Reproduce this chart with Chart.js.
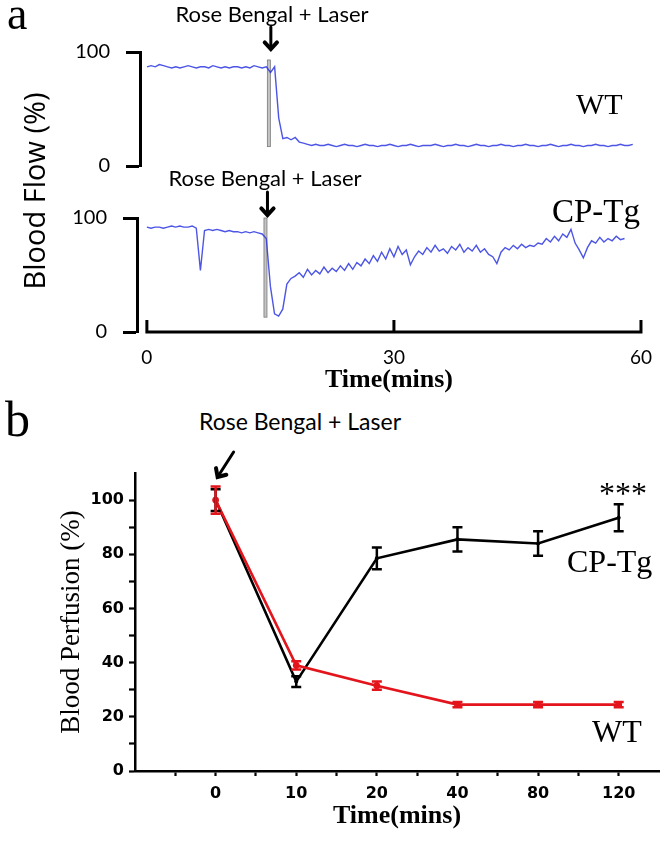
<!DOCTYPE html>
<html>
<head>
<meta charset="utf-8">
<script src="https://cdn.jsdelivr.net/npm/chart.js@4.4.0/dist/chart.umd.min.js"></script>
<style>
  html, body { margin: 0; padding: 0; background: #fff; }
  #page { position: relative; width: 666px; height: 842px; overflow: hidden; background: #fff; }
  canvas { position: absolute; left: 0; }
  .lbl { position: absolute; white-space: nowrap; color: #000; line-height: 1; }
  .serif { font-family: "Liberation Serif", "Times New Roman", serif; }
  .sans { font-family: Lato, "Open Sans", sans-serif; }
  .hdr { text-align: center; width: 300px; }
</style>
</head>
<body>
<div id="page">
  <canvas id="flowWT" width="666" height="194" style="top:0"></canvas>
  <canvas id="flowCP" width="666" height="220" style="top:180px"></canvas>
  <canvas id="perfusion" width="666" height="402" style="top:440px"></canvas>

  <div class="lbl serif" style="left:7px;top:-9px;font-size:46px">a</div>
  <div class="lbl sans hdr" style="left:122px;top:3px;font-size:22px">Rose Bengal + Laser</div>
  <div class="lbl serif" style="left:576px;top:89px;font-size:30px">WT</div>
  <div class="lbl sans hdr" style="left:115px;top:167px;font-size:22px">Rose Bengal + Laser</div>
  <div class="lbl serif" style="left:552px;top:195px;font-size:33px">CP-Tg</div>
  <div class="lbl" style="left:33px;top:191px;font-size:29px;font-family:'Open Sans',sans-serif;transform:translate(-50%,-50%) rotate(-90deg)">Blood Flow (%)</div>

  <div class="lbl serif" style="left:5px;top:394px;font-size:50px">b</div>
  <div class="lbl sans hdr" style="left:150px;top:410px;font-size:23px">Rose Bengal + Laser</div>
  <div class="lbl serif" style="left:599px;top:477px;font-size:32px">***</div>
  <div class="lbl serif" style="left:567px;top:545px;font-size:32px">CP-Tg</div>
  <div class="lbl serif" style="left:592px;top:715px;font-size:32px">WT</div>
</div>

<script>
// ---- panel a: laser Doppler traces (sampled every 0.5 min) ----
const traceStep = 0.5;
const flowTicks = [0, 30, 60];

const wtFlow = [
  87, 88, 87, 89, 88, 87, 86, 87, 86, 87, 88, 87, 86, 87, 87, 86, 88, 87, 86, 87,
  86, 87, 87, 86, 87, 86, 88, 87, 86, 87, 82, 87, 42, 24, 25, 23, 25, 21, 20, 19,
  18, 19, 18, 18, 19, 18, 17, 18, 19, 18, 18, 17, 18, 19, 18, 18, 17, 18, 18, 19,
  18, 17, 18, 18, 19, 18, 17, 18, 18, 18, 19, 18, 17, 18, 18, 19, 18, 18, 17, 18,
  19, 18, 18, 17, 18, 18, 19, 18, 18, 17, 18, 18, 19, 18, 18, 17, 18, 18, 19, 18,
  17, 18, 18, 19, 18, 18, 17, 18, 18, 19, 18, 18, 17, 18, 18, 19, 18, 18, 19
];
const cpFlow = [
  92, 91, 92, 92, 91, 92, 93, 92, 93, 92, 92, 93, 91, 54, 89, 90, 89, 90, 89, 88,
  89, 88, 88, 87, 88, 87, 88, 87, 86, 82, 40, 16, 14, 20, 42, 47, 49,
  52, 48, 55, 50, 54, 51, 57, 52, 56, 53, 58, 54, 60, 55, 61,
  58, 64, 60, 67, 62, 70, 64, 73, 66, 75, 68, 72,
  59,
  66, 71, 68, 74, 70, 76, 71, 73, 69, 75, 72, 77, 70, 74, 71, 76, 70, 73, 68, 66,
  60,
  70, 74, 72, 76, 73, 77, 74, 76, 75, 78, 77,
  82, 79, 84, 80, 86, 83, 90,
  78, 72, 65, 74,
  80, 78, 83, 79, 82, 80, 84, 81, 82
];
const wtInjection = 14.8;
const cpInjection = 14.4;

// ---- panel b: blood perfusion ----
const timeLabels = ['0', '10', '20', '40', '80', '120'];
const wtPerfusion = [100, 39, 31.5, 24.5, 24.5, 24.5];
const wtError = [5, 1.5, 1.5, 1, 1, 1];
const cpPerfusion = [100, 33, 78.5, 85.5, 84, 93.5];
const cpError = [4, 2, 4, 4.5, 4.5, 5];

const toPoints = arr => arr.map((v, i) => ({ x: i * traceStep, y: v }));

function drawArrow(ctx, x1, y1, x2, y2) {
  const ang = Math.atan2(y2 - y1, x2 - x1);
  ctx.save();
  ctx.strokeStyle = '#000';
  ctx.lineCap = 'round';
  ctx.lineJoin = 'miter';
  ctx.lineWidth = 3;
  ctx.beginPath();
  ctx.moveTo(x1, y1);
  ctx.lineTo(x2, y2);
  ctx.stroke();
  ctx.lineWidth = 4;
  ctx.beginPath();
  ctx.moveTo(x2 - 9 * Math.cos(ang - 0.75), y2 - 9 * Math.sin(ang - 0.75));
  ctx.lineTo(x2, y2);
  ctx.lineTo(x2 - 9 * Math.cos(ang + 0.75), y2 - 9 * Math.sin(ang + 0.75));
  ctx.stroke();
  ctx.restore();
}

// gray laser marker, arrow and (optionally) the time axis with upward ticks
function laserMarks(id, injectTime, hiVal, loVal, arrowUp, arrowDown, withAxis) {
  return {
    id: id,
    beforeDatasetsDraw(chart) {
      const { ctx, scales: { x, y } } = chart;
      const px = x.getPixelForValue(injectTime);
      const t = y.getPixelForValue(hiVal);
      const b = y.getPixelForValue(loVal);
      ctx.save();
      ctx.fillStyle = '#c4c4c4';
      ctx.strokeStyle = '#7a7a7a';
      ctx.lineWidth = 0.8;
      ctx.fillRect(px - 1.5, t, 3, b - t);
      ctx.strokeRect(px - 1.5, t, 3, b - t);
      ctx.restore();
    },
    afterDraw(chart) {
      const { ctx, chartArea, scales: { x } } = chart;
      const px = x.getPixelForValue(injectTime) + 2;
      drawArrow(ctx, px, chartArea.top - arrowUp, px, chartArea.top - arrowDown);
      if (withAxis) {
        const yb = chartArea.bottom;
        ctx.save();
        ctx.strokeStyle = '#000';
        ctx.lineWidth = 3;
        ctx.beginPath();
        ctx.moveTo(x.getPixelForValue(flowTicks[0]) - 1.5, yb);
        ctx.lineTo(x.getPixelForValue(flowTicks[flowTicks.length - 1]) + 1.5, yb);
        flowTicks.forEach(v => {
          const tx = x.getPixelForValue(v);
          ctx.moveTo(tx, yb);
          ctx.lineTo(tx, yb - 12);
        });
        ctx.stroke();
        ctx.restore();
      }
    }
  };
}

const flowY = (w) => ({
  min: 0, max: 100,
  afterFit(s) { s.width = w; },
  ticks: { stepSize: 100, color: '#000', padding: 16, font: { family: 'Lato, "Open Sans", sans-serif', size: 20 } },
  grid: { drawOnChartArea: false, tickLength: 14, tickWidth: 3, tickColor: '#000' },
  border: { display: true, color: '#000', width: 3 }
});

const traceStyle = {
  borderColor: 'rgba(45, 55, 225, 0.85)',
  borderWidth: 1.4,
  pointRadius: 0,
  tension: 0,
  fill: false
};

new Chart(document.getElementById('flowWT'), {
  type: 'line',
  data: { datasets: [Object.assign({ label: 'WT', data: toPoints(wtFlow) }, traceStyle)] },
  options: {
    responsive: false,
    animation: false,
    layout: { padding: { top: 52, bottom: 0, left: 0, right: 25 } },
    plugins: { legend: { display: false }, tooltip: { enabled: false } },
    scales: {
      x: { type: 'linear', min: -0.85, max: 60, display: false },
      y: flowY(140)
    }
  },
  plugins: [laserMarks('wtMarks', wtInjection, 93, 17, 25, 3, false)]
});

new Chart(document.getElementById('flowCP'), {
  type: 'line',
  data: { datasets: [Object.assign({ label: 'CP-Tg', data: toPoints(cpFlow) }, traceStyle)] },
  options: {
    responsive: false,
    animation: false,
    layout: { padding: { top: 38, bottom: 0, left: 0, right: 25 } },
    plugins: { legend: { display: false }, tooltip: { enabled: false } },
    scales: {
      x: {
        type: 'linear', min: -1.2, max: 60,
        afterFit(s) { s.height = 68; },
        afterBuildTicks(s) { s.ticks = flowTicks.map(v => ({ value: v })); },
        ticks: { color: '#000', padding: 14, maxRotation: 0, font: { family: 'Lato, "Open Sans", sans-serif', size: 19 } },
        grid: { display: false, drawTicks: false },
        border: { display: false },
        title: {
          display: true, text: 'Time(mins)', color: '#000',
          padding: { top: 0, bottom: 4 },
          font: { family: '"Liberation Serif", "Times New Roman", serif', size: 26, weight: 'bold' }
        }
      },
      y: flowY(137)
    }
  },
  plugins: [laserMarks('cpMarks', cpInjection, 100, 13, 26, 3, true)]
});

// ---- panel b chart ----
const errorBars = {
  id: 'errorBars',
  afterDatasetsDraw(chart) {
    const { ctx, scales: { x, y } } = chart;
    const sets = chart.data.datasets.slice().reverse();
    sets.forEach(ds => {
      ctx.save();
      ctx.strokeStyle = ds.borderColor;
      ctx.lineWidth = 2.5;
      ds.data.forEach((p, i) => {
        const px = x.getPixelForValue(p.x);
        const t = y.getPixelForValue(p.y + ds.errors[i]);
        const b = y.getPixelForValue(p.y - ds.errors[i]);
        ctx.beginPath();
        ctx.moveTo(px, t); ctx.lineTo(px, b);
        ctx.moveTo(px - 5, t); ctx.lineTo(px + 5, t);
        ctx.moveTo(px - 5, b); ctx.lineTo(px + 5, b);
        ctx.stroke();
      });
      ctx.restore();
    });
  },
  afterDraw(chart) {
    const { ctx, chartArea, scales: { x } } = chart;
    const x0 = x.getPixelForValue(0);
    drawArrow(ctx, x0 + 18, chartArea.top - 21, x0 + 2, chartArea.top + 4);
  }
};

const byIndex = arr => arr.map((v, i) => ({ x: i, y: v }));

new Chart(document.getElementById('perfusion'), {
  type: 'line',
  data: {
    datasets: [
      {
        label: 'WT', data: byIndex(wtPerfusion), errors: wtError,
        borderColor: '#e3141b', backgroundColor: '#e3141b',
        borderWidth: 2.6, pointRadius: 3.4, pointBorderWidth: 0, tension: 0
      },
      {
        label: 'CP-Tg', data: byIndex(cpPerfusion), errors: cpError,
        borderColor: '#000', backgroundColor: '#000',
        borderWidth: 2.6, pointRadius: 2, pointBorderWidth: 0, tension: 0
      }
    ]
  },
  options: {
    responsive: false,
    animation: false,
    layout: { padding: { top: 33, bottom: 0, left: 0, right: 7 } },
    plugins: { legend: { display: false }, tooltip: { enabled: false } },
    scales: {
      x: {
        type: 'linear', min: -1, max: 5.5,
        afterFit(s) { s.height = 71; },
        afterBuildTicks(s) {
          const t = [];
          for (let v = -0.5; v <= 5; v += 0.5) t.push({ value: v });
          s.ticks = t;
        },
        ticks: {
          color: '#000', padding: 8, maxRotation: 0, autoSkip: false,
          font: { family: '"DejaVu Sans", sans-serif', size: 16, weight: 'bold' },
          callback: v => (Number.isInteger(v) && v >= 0 ? timeLabels[v] : '')
        },
        grid: { drawOnChartArea: false, tickLength: 5, tickColor: '#000', tickWidth: 2.2 },
        border: { display: true, color: '#000', width: 2.5 },
        title: {
          display: true, text: 'Time(mins)', color: '#000',
          padding: { top: 0, bottom: 10 },
          font: { family: '"Liberation Serif", "Times New Roman", serif', size: 26, weight: 'bold' }
        }
      },
      y: {
        min: 0, max: 110,
        afterFit(s) { s.width = 135; },
        ticks: {
          stepSize: 10, color: '#000', padding: 5,
          font: { family: '"DejaVu Sans", sans-serif', size: 16, weight: 'bold' },
          callback: v => (v % 20 === 0 && v <= 100 ? v : '')
        },
        grid: {
          drawOnChartArea: false, tickLength: 6, tickWidth: 2.2,
          tickColor: c => (c.tick && c.tick.value === 110 ? 'rgba(0,0,0,0)' : '#000')
        },
        border: { display: true, color: '#000', width: 2.5 },
        title: {
          display: true, text: 'Blood Perfusion (%)', color: '#000',
          padding: { top: 56, bottom: 0 },
          font: { family: '"Liberation Serif", "Times New Roman", serif', size: 27 }
        }
      }
    }
  },
  plugins: [errorBars]
});
</script>
</body>
</html>
